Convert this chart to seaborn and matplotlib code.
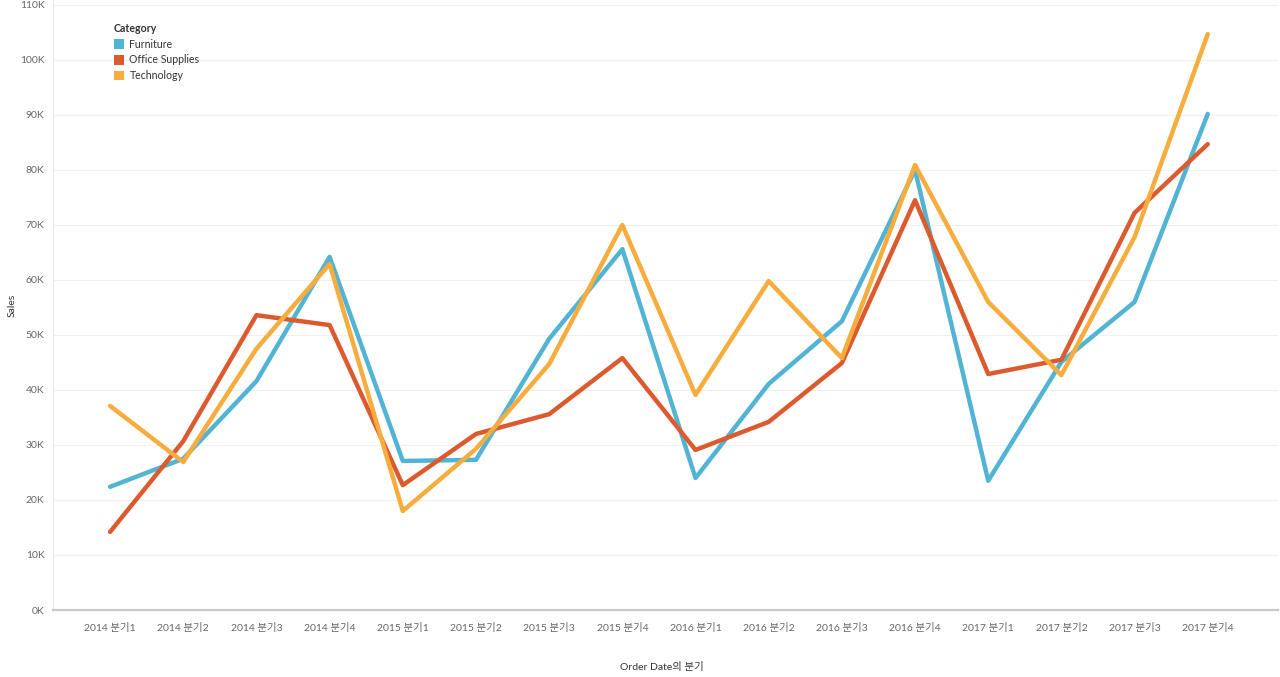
import matplotlib
matplotlib.use("Agg")
import matplotlib.pyplot as plt
import seaborn as sns
import pandas as pd
from matplotlib.ticker import FuncFormatter, MultipleLocator
from matplotlib.patches import Patch

quarters = ["2014 분기1", "2014 분기2", "2014 분기3", "2014 분기4",
            "2015 분기1", "2015 분기2", "2015 분기3", "2015 분기4",
            "2016 분기1", "2016 분기2", "2016 분기3", "2016 분기4",
            "2017 분기1", "2017 분기2", "2017 분기3", "2017 분기4"]
categories = ["Furniture", "Office Supplies", "Technology"]
furniture = [22400, 27500, 41600, 64200, 27100, 27300, 49300, 65600,
             24000, 41100, 52500, 80000, 23500, 45100, 56000, 90200]
office_supplies = [14200, 30700, 53600, 51800, 22700, 32000, 35600, 45800,
                   29100, 34200, 44900, 74500, 42900, 45500, 72200, 84700]
technology = [37100, 26900, 47500, 62900, 18000, 29300, 44700, 70000,
              39100, 59800, 45800, 80900, 56000, 42700, 67800, 104700]
colors = ["#52b4d4", "#dc5b2e", "#f7ad3e"]

rows = []
for cat, vals in zip(categories, [furniture, office_supplies, technology]):
    for i, (q, v) in enumerate(zip(quarters, vals)):
        rows.append({"idx": i, "quarter": q, "Category": cat, "Sales": v})
df = pd.DataFrame(rows)

sns.set_theme(style="white")
plt.rcParams['font.family'] = ['Lato', 'Noto Sans CJK KR', 'DejaVu Sans']

fig = plt.figure(figsize=(12.8, 6.77), dpi=100)
ax = fig.add_axes([53/1280, 67/677, (1278-53)/1280, 610/677])

sns.lineplot(data=df, x="idx", y="Sales", hue="Category", hue_order=categories,
             palette=colors, linewidth=3.2, ax=ax, legend=False, zorder=3)

ax.set_xlim(-0.78, 15.96)
ax.set_ylim(0, 110900)
ax.yaxis.set_major_locator(MultipleLocator(10000))
ax.yaxis.set_major_formatter(FuncFormatter(lambda v, p: f"{int(round(v/1000))}K"))
ax.set_xticks(range(len(quarters)))
ax.set_xticklabels(quarters)
ax.grid(axis="y", color="#f0f0f0", linewidth=0.8)
ax.grid(axis="x", visible=False)
for s in ["top", "right"]:
    ax.spines[s].set_visible(False)
ax.spines["left"].set_color("#e8e8e8")
ax.spines["left"].set_linewidth(0.8)
ax.spines["bottom"].set_color("#c8c8c8")
ax.spines["bottom"].set_linewidth(1.6)
ax.tick_params(axis="both", labelsize=7.5, labelcolor="#666666", length=0, pad=6)
ax.tick_params(axis="x", pad=9)
ax.set_xlabel("")
ax.set_ylabel("")
fig.text(662/1280, 1 - 667/677, "Order Date의 분기", fontsize=7.5, color="#333333",
         ha="center", va="center")
fig.text(12/1280, 1 - 305/677, "Sales", fontsize=7.5, color="#333333",
         ha="center", va="center", rotation=90)

handles = [Patch(facecolor=c, edgecolor="none", label=l) for c, l in zip(colors, categories)]
leg = ax.legend(handles=handles, title="Category", loc="upper left",
                bbox_to_anchor=(51/1225, 0.978), frameon=False, fontsize=7.6,
                title_fontsize=7.6, handlelength=1.0, handleheight=1.0,
                handletextpad=0.5, labelspacing=0.45, alignment="left")
leg.get_title().set_fontweight("bold")
leg.get_title().set_color("#333333")
for t in leg.get_texts():
    t.set_color("#333333")

fig.savefig("out.png", dpi=100, facecolor="white")
